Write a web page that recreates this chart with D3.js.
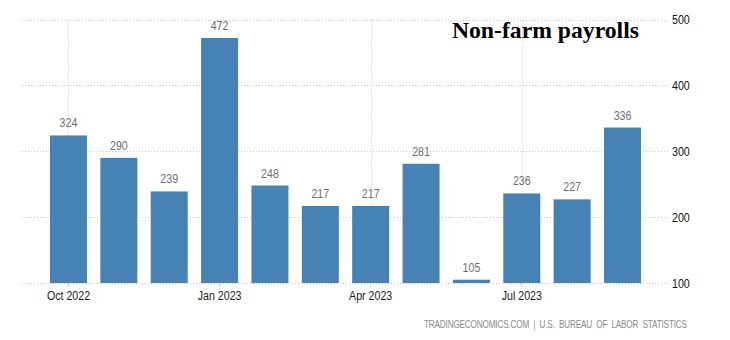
<!DOCTYPE html>
<html>
<head>
<meta charset="utf-8">
<script src="https://cdn.jsdelivr.net/npm/d3@7"></script>
<style>
  html, body { margin: 0; padding: 0; background: #fff; }
  svg { display: block; }
  .narrow { font-family: "Liberation Sans", Arial, sans-serif; }
</style>
</head>
<body>
<svg id="chart" width="730" height="340"></svg>
<script>
// Monthly change in US non-farm payrolls (thousands)
const months = ["Oct 2022", "Nov 2022", "Dec 2022", "Jan 2023", "Feb 2023", "Mar 2023",
                "Apr 2023", "May 2023", "Jun 2023", "Jul 2023", "Aug 2023", "Sep 2023"];
const payrolls = [324, 290, 239, 472, 248, 217, 217, 281, 105, 236, 227, 336];
const yTicks = [100, 200, 300, 400, 500];
const xTickLabels = ["Oct 2022", "Jan 2023", "Apr 2023", "Jul 2023"];

const svg = d3.select("#chart");
const plotLeft = 22, plotRight = 669, plotTop = 19.5, plotBottom = 283;
const squeeze = 0.82; // horizontal condensing of the sans labels

const x = d3.scaleBand()
  .domain(months)
  .range([43.3, 647.7])
  .paddingInner(0.265)
  .paddingOuter(0.1325);

const y = d3.scaleLinear().domain([100, 500]).range([plotBottom, plotTop]);

const grid = svg.append("g");
// horizontal gridlines
grid.selectAll("line.h").data(yTicks).join("line")
  .attr("x1", plotLeft).attr("x2", plotRight)
  .attr("y1", d => Math.round(y(d)) + 0.5).attr("y2", d => Math.round(y(d)) + 0.5)
  .attr("stroke", "#c8c8c8").attr("stroke-width", 1).attr("stroke-dasharray", "1,2");
// vertical gridlines at quarter labels
grid.selectAll("line.v").data(xTickLabels).join("line")
  .attr("x1", d => Math.round(x(d) + x.bandwidth() / 2) + 0.5)
  .attr("x2", d => Math.round(x(d) + x.bandwidth() / 2) + 0.5)
  .attr("y1", plotTop).attr("y2", plotBottom)
  .attr("stroke", "#c8c8c8").attr("stroke-width", 1).attr("stroke-dasharray", "1,2");

// bars
svg.append("g").selectAll("rect").data(payrolls).join("rect")
  .attr("x", (d, i) => x(months[i]))
  .attr("width", x.bandwidth())
  .attr("y", d => y(d))
  .attr("height", d => y(100) - y(d))
  .attr("fill", "#4682b4");

// value labels
svg.append("g").selectAll("text").data(payrolls).join("text")
  .attr("class", "narrow")
  .attr("transform", (d, i) =>
    `translate(${x(months[i]) + x.bandwidth() / 2},${y(d) - 8}) scale(${squeeze},1)`)
  .attr("text-anchor", "middle")
  .attr("font-size", 13)
  .attr("fill", "#6e6e6e")
  .text(d => d);

// x axis
const xAxis = d3.axisBottom(x).tickValues(xTickLabels).tickSize(4).tickPadding(4);
const gx = svg.append("g").attr("transform", `translate(0,${plotBottom})`).call(xAxis);
gx.attr("font-family", null).attr("font-size", null);
gx.select(".domain").remove();
gx.selectAll(".tick line").attr("stroke", "#c8c8c8");
gx.selectAll(".tick text").attr("class", "narrow").attr("font-size", 13).attr("fill", "#222")
  .attr("transform", `scale(${squeeze},1)`);

// y axis on the right
const yAxis = d3.axisRight(y).tickValues(yTicks).tickSize(0).tickPadding(0);
const gy = svg.append("g").attr("transform", `translate(672,0)`).call(yAxis);
gy.attr("font-family", null).attr("font-size", null);
gy.select(".domain").remove();
gy.selectAll(".tick text").attr("class", "narrow").attr("font-size", 13).attr("fill", "#111")
  .attr("transform", `scale(${squeeze},1)`);

// title
svg.append("text")
  .attr("x", 639).attr("y", 37.5)
  .attr("text-anchor", "end")
  .attr("font-family", "'Liberation Serif', 'Times New Roman', serif")
  .attr("font-weight", "bold")
  .attr("font-size", 23.7)
  .attr("fill", "#000")
  .text("Non-farm payrolls");

// source note
svg.append("text")
  .attr("class", "narrow")
  .attr("transform", `translate(424,328) scale(${squeeze},1)`)
  .attr("font-size", 10)
  .attr("textLength", 263 / squeeze)
  .attr("lengthAdjust", "spacing")
  .attr("fill", "#8a8a8a")
  .text("TRADINGECONOMICS.COM  |  U.S.  BUREAU  OF  LABOR  STATISTICS")
  .style("white-space", "pre");
</script>
</body>
</html>
